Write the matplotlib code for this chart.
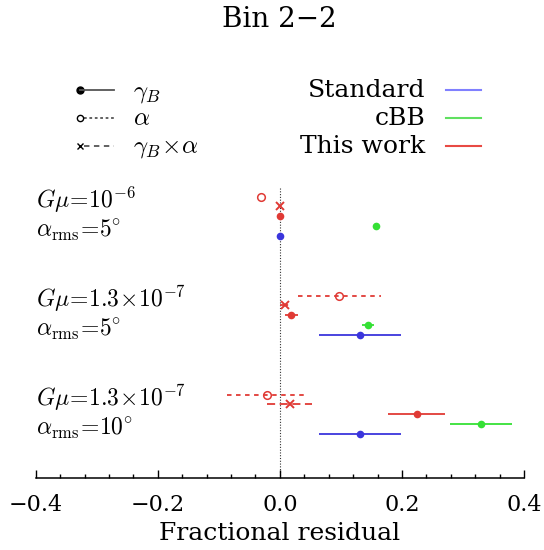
import matplotlib
matplotlib.use("Agg")
import matplotlib.pyplot as plt
from matplotlib.lines import Line2D
from matplotlib.ticker import MultipleLocator

plt.rcParams['font.family'] = ['DejaVu Serif']
plt.rcParams['mathtext.fontset'] = 'cm'

# ---------------- data ----------------
group_line1 = [r'$G\mu\!=\!10^{-6}$', r'$G\mu\!=\!1.3\!\times\!10^{-7}$', r'$G\mu\!=\!1.3\!\times\!10^{-7}$']
group_line2 = [r'$\alpha_{\rm rms}\!=\!5^{\circ}$', r'$\alpha_{\rm rms}\!=\!5^{\circ}$', r'$\alpha_{\rm rms}\!=\!10^{\circ}$']

this_alpha = [-0.031, 0.097, -0.021]
this_alpha_err = [0.0, 0.068, 0.066]
this_gba = [0.0, 0.009, 0.016]
this_gba_err = [0.0, 0.008, 0.037]
this_gb = [0.0, 0.019, 0.224]
this_gb_err = [0.0, 0.010, 0.047]
cbb_gb = [0.158, 0.144, 0.329]
cbb_gb_err = [0.0, 0.010, 0.051]
std_gb = [0.0, 0.131, 0.131]
std_gb_err = [0.0, 0.067, 0.067]

xticks = [-0.4, -0.2, 0.0, 0.2, 0.4]
xticklabels = ['\u22120.4', '\u22120.2', '0.0', '0.2', '0.4']

RED = '#e03a35'
GREEN = '#35e035'
BLUE = '#3a35dc'

W, H = 544, 550
fig = plt.figure(figsize=(W / 100, H / 100), dpi=100)

def fx(px):
    return px / W

def fy(py):
    return 1 - py / H

ax = fig.add_axes([fx(35.7), fy(477.7), fx(524) - fx(35.7), fy(186.7) - fy(477.7)])
ax.set_xlim(-0.4, 0.4)
ax.set_ylim(28.4, -1.0)

for s in ['top', 'left', 'right']:
    ax.spines[s].set_visible(False)
ax.spines['bottom'].set_linewidth(1.1)
ax.set_yticks([])
ax.set_xticks(xticks)
ax.set_xticklabels(xticklabels)
ax.xaxis.set_minor_locator(MultipleLocator(0.04))
ax.tick_params(axis='x', which='major', direction='in', length=6, width=1.0, labelsize=16, pad=12)
ax.tick_params(axis='x', which='minor', direction='in', length=3, width=1.0)
ax.set_xlabel('Fractional residual', fontsize=18, labelpad=4)

ax.axvline(0.0, color='#333333', linestyle=(0, (1, 1.5)), linewidth=0.8, zorder=0)

def eb(x, y, err, color, marker, ls, ms, mfc, mew):
    _, _, bars = ax.errorbar(x, y, xerr=err, fmt=marker, color=color, ecolor=color,
                             elinewidth=1.3, ms=ms, mfc=mfc, mec=color, mew=mew,
                             capsize=0, zorder=3)
    for b in bars:
        b.set_linestyle(ls)

for g in range(3):
    base = 10 * g
    eb(this_alpha[g], base + 0, this_alpha_err[g], RED, 'o', (0, (2.5, 2.5)), 5.5, 'none', 1.1)
    eb(this_gba[g], base + 1, this_gba_err[g], RED, 'x', (0, (4.5, 2.5)), 6, RED, 1.4)
    eb(this_gb[g], base + 2, this_gb_err[g], RED, 'o', '-', 5.5, RED, 0)
    eb(cbb_gb[g], base + 3, cbb_gb_err[g], GREEN, 'o', '-', 5.5, GREEN, 0)
    eb(std_gb[g], base + 4, std_gb_err[g], BLUE, 'o', '-', 5.5, BLUE, 0)
    ax.text(fx(36.5), base + 1.15, group_line1[g], transform=ax.get_yaxis_transform().__class__(fig.transFigure, ax.transData),
            fontsize=17, ha='left', va='baseline')
    ax.text(fx(36.5), base + 4.1, group_line2[g], transform=ax.get_yaxis_transform().__class__(fig.transFigure, ax.transData),
            fontsize=17, ha='left', va='baseline')

# title
fig.text(fx(279), fy(27), 'Bin 2\u22122', fontsize=20, ha='center', va='baseline')

# left legend (line styles)
rows_y = [90, 117.5, 145.5]
base_y = [97.3, 125, 152.7]
styles = [('o', '-', 'k', 5), ('o', (0, (1.5, 1.5)), 'white', 4.5), ('x', (0, (3, 2.5)), 'k', 4.5)]
labels_left = [r'$\gamma_B$', r'$\alpha$', r'$\gamma_B\!\times\!\alpha$']
for (mk, ls, mfc, ms), ry, by, lab in zip(styles, rows_y, base_y, labels_left):
    fig.add_artist(Line2D([fx(84), fx(114)], [fy(ry), fy(ry)], color='#555555', lw=1.3, linestyle=ls))
    fig.add_artist(Line2D([fx(80)], [fy(ry)], marker=mk, color='k', mfc=mfc, mec='k', ms=ms, mew=1.0))
    fig.add_artist(Line2D([fx(80), fx(84)], [fy(ry), fy(ry)], color='#555555', lw=1.3) if ls == '-' else Line2D([], []))
    fig.text(fx(132.7), fy(by), lab, fontsize=18, ha='left', va='baseline')

# right legend (colours)
labels_right = ['Standard', 'cBB', 'This work']
colors_right = ['#8080ff', '#60e060', '#e84a44']
for lab, c, ry, by in zip(labels_right, colors_right, rows_y, base_y):
    fig.text(fx(425.7), fy(by), lab, fontsize=18, ha='right', va='baseline')
    fig.add_artist(Line2D([fx(445.7), fx(480.7)], [fy(ry), fy(ry)], color=c, lw=1.5))

fig.savefig('out.png', dpi=100)
